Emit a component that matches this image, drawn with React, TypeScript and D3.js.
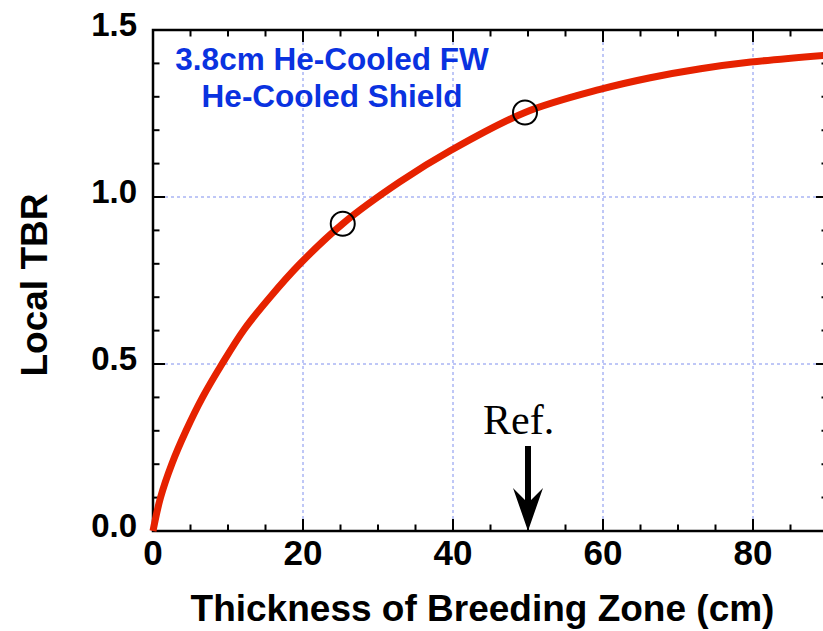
import React from "react";
import * as d3 from "d3";

const curveX = [0, 1.0, 2.5, 4.4, 6.6, 9.2, 12.2, 15.6, 19.6, 25.3, 32.9, 39.9, 49.6, 59.6, 66.3, 73, 79.7, 89.4, 90];
const curveTBR = [0, 0.1, 0.2, 0.3, 0.4, 0.5, 0.605, 0.7, 0.8, 0.92, 1.045, 1.142, 1.253, 1.322, 1.357, 1.384, 1.404, 1.424, 1.425];
const markerX = [25.3, 49.6];
const markerTBR = [0.92, 1.253];
const xTicks = [0, 20, 40, 60, 80];
const yTicks = [0, 0.5, 1.0, 1.5];
const xMinor = d3.range(0, 91, 5);
const yMinor = d3.range(0, 16).map((i) => i / 10);
const refX = 50;
const legendLines = ["3.8cm He-Cooled FW", "He-Cooled Shield"];

const W = 823;
const H = 631;
const L = 153;
const R = 828;
const T = 30;
const B = 531;
const font = "'Liberation Sans', Arial, Helvetica, sans-serif";

export default function App() {
  const x = d3.scaleLinear().domain([0, 90]).range([L, R]);
  const y = d3.scaleLinear().domain([0, 1.5]).range([B, T]);
  const pts = curveX.map((v, i) => [v, curveTBR[i]] as [number, number]);
  const line = d3
    .line<[number, number]>()
    .x((d) => x(d[0]))
    .y((d) => y(d[1]))
    .curve(d3.curveCatmullRom.alpha(0.5));

  const gridColor = "#7f8fee";
  const ax = x(refX);

  return (
    <svg
      width={W}
      height={H}
      style={{ position: "absolute", left: 0, top: 0, overflow: "hidden", background: "#fff" }}
    >
      <rect x={0} y={0} width={W} height={H} fill="#fff" />
      {/* grid */}
      {xTicks
        .filter((t) => t > 0)
        .map((t) => (
          <line key={"gx" + t} x1={x(t)} x2={x(t)} y1={T} y2={B} stroke={gridColor} strokeWidth={1} strokeDasharray="3,3" />
        ))}
      {yTicks
        .filter((t) => t > 0 && t < 1.5)
        .map((t) => (
          <line key={"gy" + t} x1={L} x2={R} y1={y(t)} y2={y(t)} stroke={gridColor} strokeWidth={1} strokeDasharray="3,3" />
        ))}

      {/* minor/major ticks */}
      {xMinor.map((t) => {
        const major = t % 20 === 0;
        const len = major ? 12 : 6.5;
        return (
          <g key={"tx" + t}>
            <line x1={x(t)} x2={x(t)} y1={B} y2={B - len} stroke="#000" strokeWidth={2} />
            <line x1={x(t)} x2={x(t)} y1={T} y2={T + len} stroke="#000" strokeWidth={2} />
          </g>
        );
      })}
      {yMinor.map((t) => {
        const major = Math.abs(t * 2 - Math.round(t * 2)) < 1e-6;
        const len = major ? 12 : 6.5;
        return (
          <g key={"ty" + t}>
            <line x1={L} x2={L + len} y1={y(t)} y2={y(t)} stroke="#000" strokeWidth={2} />
            <line x1={R} x2={R - len} y1={y(t)} y2={y(t)} stroke="#000" strokeWidth={2} />
          </g>
        );
      })}

      {/* frame */}
      <rect x={L} y={T} width={R - L} height={B - T} fill="none" stroke="#000" strokeWidth={2.5} />

      {/* curve */}
      <path d={line(pts) || ""} fill="none" stroke="#e62200" strokeWidth={7} strokeLinecap="butt" />

      {/* markers */}
      {markerX.map((mx, i) => (
        <circle key={"m" + i} cx={x(mx)} cy={y(markerTBR[i])} r={12} fill="none" stroke="#000" strokeWidth={2} />
      ))}

      {/* tick labels */}
      {xTicks.map((t) => (
        <text key={"lx" + t} x={x(t)} y={565} textAnchor="middle" fontFamily={font} fontWeight="bold" fontSize={35} fill="#000">
          {t}
        </text>
      ))}
      {yTicks.map((t) => (
        <text key={"ly" + t} x={137} y={y(t) + 6} textAnchor="end" fontFamily={font} fontWeight="bold" fontSize={33} fill="#000">
          {t.toFixed(1)}
        </text>
      ))}

      {/* axis titles */}
      <text x={482.5} y={621} textAnchor="middle" fontFamily={font} fontWeight="bold" fontSize={37} fill="#000">
        Thickness of Breeding Zone (cm)
      </text>
      <text
        transform={`translate(47,285) rotate(-90)`}
        textAnchor="middle"
        fontFamily={font}
        fontWeight="bold"
        fontSize={37}
        fill="#000"
      >
        Local TBR
      </text>

      {/* legend text */}
      {legendLines.map((s, i) => (
        <text key={"lg" + i} x={332} y={70 + i * 36.5} textAnchor="middle" fontFamily={font} fontWeight="bold" fontSize={31.5} fill="#0a32e0">
          {s}
        </text>
      ))}

      {/* Ref. annotation */}
      <text x={483} y={434} fontFamily="'Liberation Serif', 'Times New Roman', serif" fontSize={42} fill="#000">
        Ref.
      </text>
      <line x1={ax} x2={ax} y1={446} y2={505} stroke="#000" strokeWidth={6} />
      <path d={`M${ax},${B} L${ax - 15},${488} L${ax},${503} L${ax + 15},${488} Z`} fill="#000" />
    </svg>
  );
}
